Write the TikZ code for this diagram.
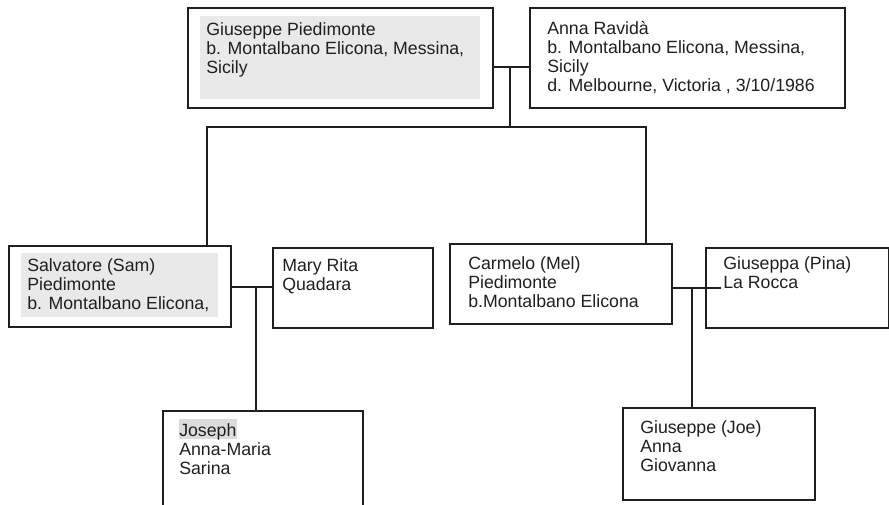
\documentclass[tikz,border=0pt]{standalone}
\usepackage{fontspec}
\setmainfont{Liberation Sans}
\definecolor{linegray}{HTML}{1F1F1F}
\definecolor{panelgray}{HTML}{E8E9E8}
\definecolor{hilite}{HTML}{DCDCDC}
\begin{document}
\begin{tikzpicture}[x=0.75pt, y=-0.75pt,
  person/.style={draw=linegray, line width=1.2pt, inner sep=0pt, anchor=north west},
  size/.style 2 args={minimum width=#1*0.75pt, minimum height=#2*0.75pt},
  % the node is placed near the first baseline of its text
  label/.style={anchor=north west, yshift=8.5pt, inner sep=0pt, align=left,
    text=black!88, font=\fontsize{13.3}{14.25}\selectfont,
    execute at begin node={\rule{0pt}{14pt}}},
  link/.style={draw=linegray, line width=1.2pt}]
\useasboundingbox (0,0) rectangle (889,504);
\clip (0,0) rectangle (889,504);

% shaded text backgrounds
\fill[panelgray] (200,16) rectangle (480,99);
\fill[panelgray] (21,253) rectangle (218,317);
\fill[hilite] (179,419) rectangle (237,439);

% person boxes
\node[person, size={305}{100}] (gp)   at (187,7)   {};
\node[person, size={315}{100}] (ar)   at (529,7)   {};
\node[person, size={222}{81}]  (sam)  at (8,245)   {};
\node[person, size={160}{80}]  (mary) at (272,247) {};
\node[person, size={222}{80}]  (mel)  at (449,243) {};
\node[person, size={183}{80}]  (pina) at (705,247) {};
\node[person, size={200}{100}] (jos)  at (162,410) {};
\node[person, size={192}{92}]  (joe)  at (622,407) {};

% names and places
\node[label] (gpt)   at (206,34)  {Giuseppe Piedimonte\\b. Montalbano Elicona, Messina,\\Sicily};
\node[label] (art)   at (547,33)  {Anna Ravidà\\b. Montalbano Elicona, Messina,\\Sicily\\d. Melbourne, Victoria , 3/10/1986};
\node[label] (samt)  at (27,270)  {Salvatore (Sam)\\Piedimonte\\b. Montalbano Elicona,};
\node[label] (maryt) at (282,270) {Mary Rita\\Quadara};
\node[label] (melt)  at (468,268) {Carmelo (Mel)\\Piedimonte\\b.Montalbano Elicona};
\node[label] (pinat) at (723,268) {Giuseppa (Pina)\\La Rocca};
\node[label] (jost)  at (179,435) {Joseph\\Anna-Maria\\Sarina};
\node[label] (joet)  at (640,432) {Giuseppe (Joe)\\Anna\\Giovanna};

% marriage and descent lines
\coordinate (m1) at (510,67);
\coordinate (bar) at (510,127);
\coordinate (m2) at (256,287);
\coordinate (m3) at (692,288);
\coordinate (m3end) at (721,288);

\draw[link] (gp.east |- m1) -- (ar.west |- m1);
\draw[link] (m1) -- (bar);
\draw[link] (sam.north -| 207,0) |- (bar) -| (mel.north -| 646,0);

\draw[link] (sam.east |- m2) -- (mary.west |- m2);
\draw[link] (m2) -- (m2 |- jos.north);

\draw[link] (mel.east |- m3) -- (m3end);
\draw[link] (m3) -- (m3 |- joe.north);
\end{tikzpicture}
\end{document}
